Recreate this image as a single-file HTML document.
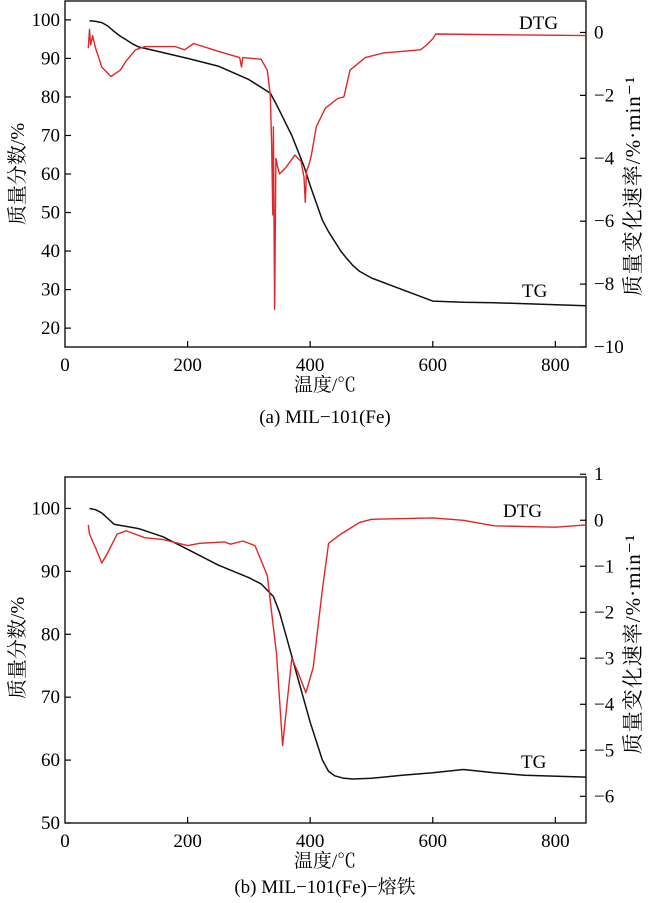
<!DOCTYPE html>
<html><head><meta charset="utf-8">
<style>
html,body{margin:0;padding:0;background:#fff;}
svg{display:block;font-family:"Liberation Serif","Noto Serif CJK SC",serif;}
</style></head>
<body>
<svg id="chart" width="657" height="903" viewBox="0 0 657 903" xmlns="http://www.w3.org/2000/svg"></svg>
<script>
const xTicks=[0,200,400,600,800];
const aLeftTicks=[20,30,40,50,60,70,80,90,100];
const aRightTicks=[0,-2,-4,-6,-8,-10];
const bLeftTicks=[50,60,70,80,90,100];
const bRightTicks=[1,0,-1,-2,-3,-4,-5,-6];
const aTgT=[40,50,60,70,80,90,100,110,120,200,250,300,335,345,370,390,400,420,430,440,450,460,470,480,500,550,600,650,700,850];
const aTgV=[99.8,99.6,99.3,98.4,97,95.8,94.8,93.8,93,90,88,84.5,81,78,70,62,57,48,45,42.5,40,38,36.2,34.8,33,30,27,26.7,26.6,25.8];
const aDtgT=[38,40,42,45,50,60,75,90,100,115,130,180,195,210,250,285,288,290,320,330,335,337,339,340,342,344,346,350,360,375,385,390,392,394,398,402,410,425,445,455,465,490,520,580,590,600,605,850];
const aDtgV=[-0.5,0.1,-0.4,-0.1,-0.5,-1.1,-1.4,-1.2,-0.9,-0.55,-0.45,-0.45,-0.55,-0.35,-0.6,-0.8,-1.1,-0.8,-0.85,-1.2,-2.0,-3.5,-5.8,-3.0,-8.8,-4.0,-4.2,-4.5,-4.3,-3.9,-4.1,-4.6,-5.4,-4.4,-4.2,-3.9,-3.0,-2.4,-2.1,-2.05,-1.2,-0.8,-0.65,-0.55,-0.4,-0.2,-0.05,-0.1];
const bTgT=[40,50,60,70,80,120,160,200,250,300,320,340,350,360,380,400,420,430,440,455,470,500,550,600,650,700,750,850];
const bTgV=[100,99.8,99.3,98.4,97.5,96.8,95.5,93.5,91,89,88,86,83.5,80,73,66,60,58.2,57.5,57.1,57,57.1,57.6,58,58.5,58,57.6,57.3];
const bDtgT=[38,40,50,60,70,85,100,130,160,200,220,260,270,290,310,330,345,355,362,370,380,393,405,420,430,450,480,500,600,650,700,800,850];
const bDtgV=[-0.1,-0.3,-0.6,-0.93,-0.7,-0.3,-0.23,-0.38,-0.42,-0.55,-0.5,-0.47,-0.52,-0.45,-0.55,-1.2,-2.9,-4.9,-4.0,-3.0,-3.3,-3.75,-3.2,-1.5,-0.5,-0.3,-0.05,0.02,0.05,0.0,-0.12,-0.15,-0.1];

const NS="http://www.w3.org/2000/svg";
const svg=document.getElementById('chart');
function mk(tag,attrs,parent){const e=document.createElementNS(NS,tag);for(const k in attrs)e.setAttribute(k,attrs[k]);(parent||svg).appendChild(e);return e;}

function panel(p){
  const g=mk('g',{});
  
  
  const L=65,R=586,T=p.top,B=p.bottom;
  const sx=t=>L+(t-0)/(850-0)*(R-L);
  const sl=v=>B-(v-p.lMin)/(p.lMax-p.lMin)*(B-T);
  const sr=v=>B-(v-p.rMin)/(p.rMax-p.rMin)*(B-T);
  const frame=mk('rect',{x:L,y:T,width:R-L,height:B-T,fill:'none',stroke:'#000','stroke-width':1.3},g);
  
  
  xTicks.forEach(t=>{
    const x=sx(t);
    if(t>0){const tk=mk('line',{x1:x,x2:x,y1:B,y2:B-6,stroke:'#000','stroke-width':1.2},g);
    }
    const tx=mk('text',{x:x,y:B+24,'font-size':19,'text-anchor':'middle'},g);
    tx.textContent=t;
    
  });
  p.lTicks.forEach(v=>{
    const y=sl(v);
    const tk=mk('line',{x1:L,x2:L+6,y1:y,y2:y,stroke:'#000','stroke-width':1.2},g);
    
    const tx=mk('text',{x:L-5,y:y+6,'font-size':19,'text-anchor':'end'},g);
    tx.textContent=v;
    
  });
  p.rTicks.forEach(v=>{
    const y=sr(v);
    const tk=mk('line',{x1:R,x2:R-6,y1:y,y2:y,stroke:'#000','stroke-width':1.2},g);
    
    const tx=mk('text',{x:R+8,y:y+6,'font-size':19,'text-anchor':'start'},g);
    tx.textContent=v<0?'\u2212'+(-v):v;
    
  });
  const tgD=p.tgT.map((t,i)=>(i?'L':'M')+sx(t).toFixed(1)+','+sl(p.tgV[i]).toFixed(1)).join('');
  const tg=mk('path',{d:tgD,fill:'none',stroke:'#111','stroke-width':1.5,'stroke-linejoin':'round'},g);
  
  const dD=p.dT.map((t,i)=>(i?'L':'M')+sx(t).toFixed(1)+','+sr(p.dV[i]).toFixed(1)).join('');
  const dt=mk('path',{d:dD,fill:'none',stroke:'#e0262a','stroke-width':1.4,'stroke-linejoin':'round'},g);
  
  const l1=mk('text',{x:p.dtgLab[0],y:p.dtgLab[1],'font-size':19},g);l1.textContent='DTG';
  
  const l2=mk('text',{x:p.tgLab[0],y:p.tgLab[1],'font-size':19},g);l2.textContent='TG';
  
  const xt=mk('text',{x:325,y:B+44,'font-size':19,'text-anchor':'middle'},g);xt.textContent='温度/℃';
  
  const cap=mk('text',{x:325,y:B+p.capOff,'font-size':19,'text-anchor':'middle'},g);cap.textContent=p.caption;
  
  const cy=(T+B)/2;
  const yl=mk('text',{x:0,y:0,'font-size':20,'text-anchor':'middle',transform:`translate(24,${cy+p.lTitleOff}) rotate(-90)`},g);yl.textContent='质量分数/%';
  
  const yr=mk('text',{x:0,y:0,'font-size':21,'letter-spacing':'1','text-anchor':'middle',transform:`translate(640,${cy+p.rTitleOff}) rotate(-90)`},g);yr.textContent='质量变化速率/%·min⁻¹';
  
}
panel({id:'panel-a',top:1,bottom:347,lMin:15.1,lMax:104.9,rMin:-10,rMax:1.0,lTicks:aLeftTicks,rTicks:aRightTicks,
  tgT:aTgT,tgV:aTgV,dT:aDtgT,dV:aDtgV,dtgLab:[519,29],tgLab:[522,297],caption:'(a) MIL\u2212101(Fe)',capOff:76,lTitleOff:0,rTitleOff:12});
panel({id:'panel-b',top:477,bottom:823,lMin:50,lMax:105,rMin:-6.58,rMax:0.94,lTicks:bLeftTicks,rTicks:bRightTicks,
  tgT:bTgT,tgV:bTgV,dT:bDtgT,dV:bDtgV,dtgLab:[503,517],tgLab:[521,768],caption:'(b) MIL\u2212101(Fe)\u2212熔铁',capOff:70,lTitleOff:-2,rTitleOff:-6});
</script>
</body></html>
